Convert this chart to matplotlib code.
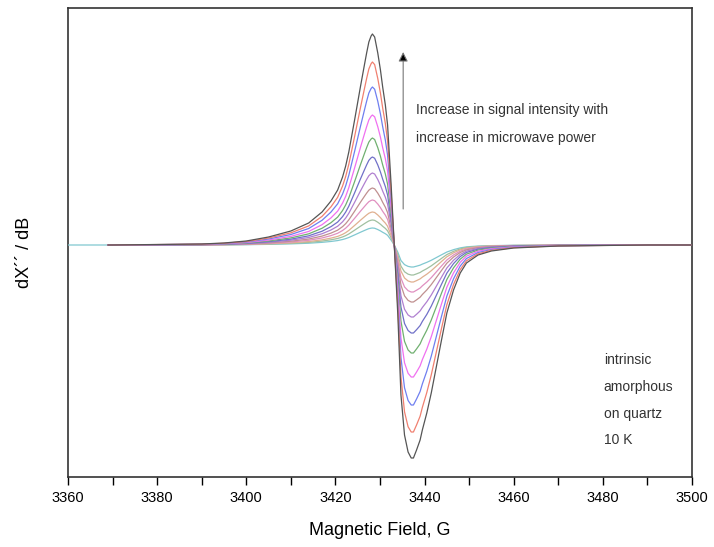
import matplotlib
matplotlib.use("Agg")
import matplotlib.pyplot as plt
import numpy as np

plt.rcParams['font.family'] = ['Liberation Sans', 'DejaVu Sans']

# Black (largest) spectrum: field (G) and signal (arb., baseline 0)
field = [3360, 3370, 3380, 3390, 3395, 3400, 3405, 3410, 3414, 3417, 3419, 3420.5,
         3421.6, 3422.3, 3423, 3424.3, 3425.6, 3426.5, 3427, 3427.5, 3428, 3428.3, 3428.8,
         3429.5, 3430.1, 3430.6, 3431.2, 3431.7, 3432.5, 3433.2, 3434, 3434.7,
         3435.5, 3436.3, 3437, 3437.5, 3438.2, 3439, 3439.5, 3440.5, 3441.5, 3442.5,
         3443.8, 3445, 3446.5, 3448, 3449.4, 3452, 3455, 3460, 3470, 3480, 3490, 3500]
shape = [0, 0, 0.5, 1, 2, 4, 8, 14, 22, 33, 44, 55,
         68, 79, 93, 125, 158, 180, 192, 203, 209, 211, 208,
         192, 175, 158, 140, 120, 60, 0, -70, -150,
         -190, -207, -213, -213, -205, -195, -185, -168, -148, -125,
         -95, -68, -45, -28, -18, -10, -6, -3, -1, -0.5, 0, 0]

# peak heights (positive lobe) and trough depths (negative lobe) for each power
pos_amp = [211, 183, 158, 130, 107, 88, 72, 57, 45, 33, 25, 17]
neg_amp = [213, 187, 160, 132, 108, 88, 72, 57, 47, 37, 30, 22]
colors = ['#555555', '#f08070', '#6f7ff0', '#f070f0', '#70b070', '#7070c8',
          '#b080d0', '#c09090', '#e090c0', '#e0b090', '#a0c0a0', '#80c8d0']

fig = plt.figure(figsize=(7.14, 5.47), dpi=100)
ax = fig.add_axes([68 / 714, 1 - 477 / 547, (692 - 68) / 714, (477 - 8) / 547])

f = np.array(field, dtype=float)
s = np.array(shape, dtype=float)
for i, (pa, na, c) in enumerate(zip(pos_amp, neg_amp, colors)):
    y = np.where(s > 0, s * pa / 211.0, s * na / 213.0)
    if i == len(colors) - 1:
        ff, yy = f, y
    else:
        m = f >= 3369
        ff = np.concatenate([[3369], f[m]])
        yy = np.concatenate([[0], y[m]])
    ax.plot(ff, yy, color=c, lw=0.9, zorder=10 - i * 0.1)

ax.set_xlim(3360, 3500)
ax.set_ylim(-(477 - 245), 245 - 8)
ax.set_xticks(np.arange(3360, 3501, 20))
ax.set_xticks(np.arange(3370, 3500, 20), minor=True)
ax.tick_params(axis='x', which='both', direction='out', length=6, width=1,
               labelsize=10.5, pad=4)
ax.set_yticks([])
for sp in ax.spines.values():
    sp.set_linewidth(1.2)
    sp.set_color('#333333')

ax.set_xlabel('Magnetic Field, G', fontsize=13, labelpad=12)
ax.set_ylabel('dX\u00b4\u00b4 / dB', fontsize=13)
ax.yaxis.set_label_coords((33 - 68) / 624, (477 - 252) / 469)

# arrow
ax.annotate('', xy=(3435.2, 245 - 52), xytext=(3435.2, 245 - 209),
            arrowprops=dict(arrowstyle='-|>', color='#777777', lw=0.8,
                            mutation_scale=14, shrinkA=0, shrinkB=0,
                            fc='black', ec='#777777'))
ax.text(3438.0, 245 - 110, 'Increase in signal intensity with', fontsize=10,
        color='#333333', va='center')
ax.text(3438.0, 245 - 138, 'increase in microwave power', fontsize=10,
        color='#333333', va='center')

for txt, yp in zip(['intrinsic', 'amorphous', 'on quartz', '10 K'],
                   [360, 387, 414, 440]):
    ax.text(3480.2, 245 - yp, txt, fontsize=10, color='#333333', va='center')

fig.savefig('out.png', dpi=100)
